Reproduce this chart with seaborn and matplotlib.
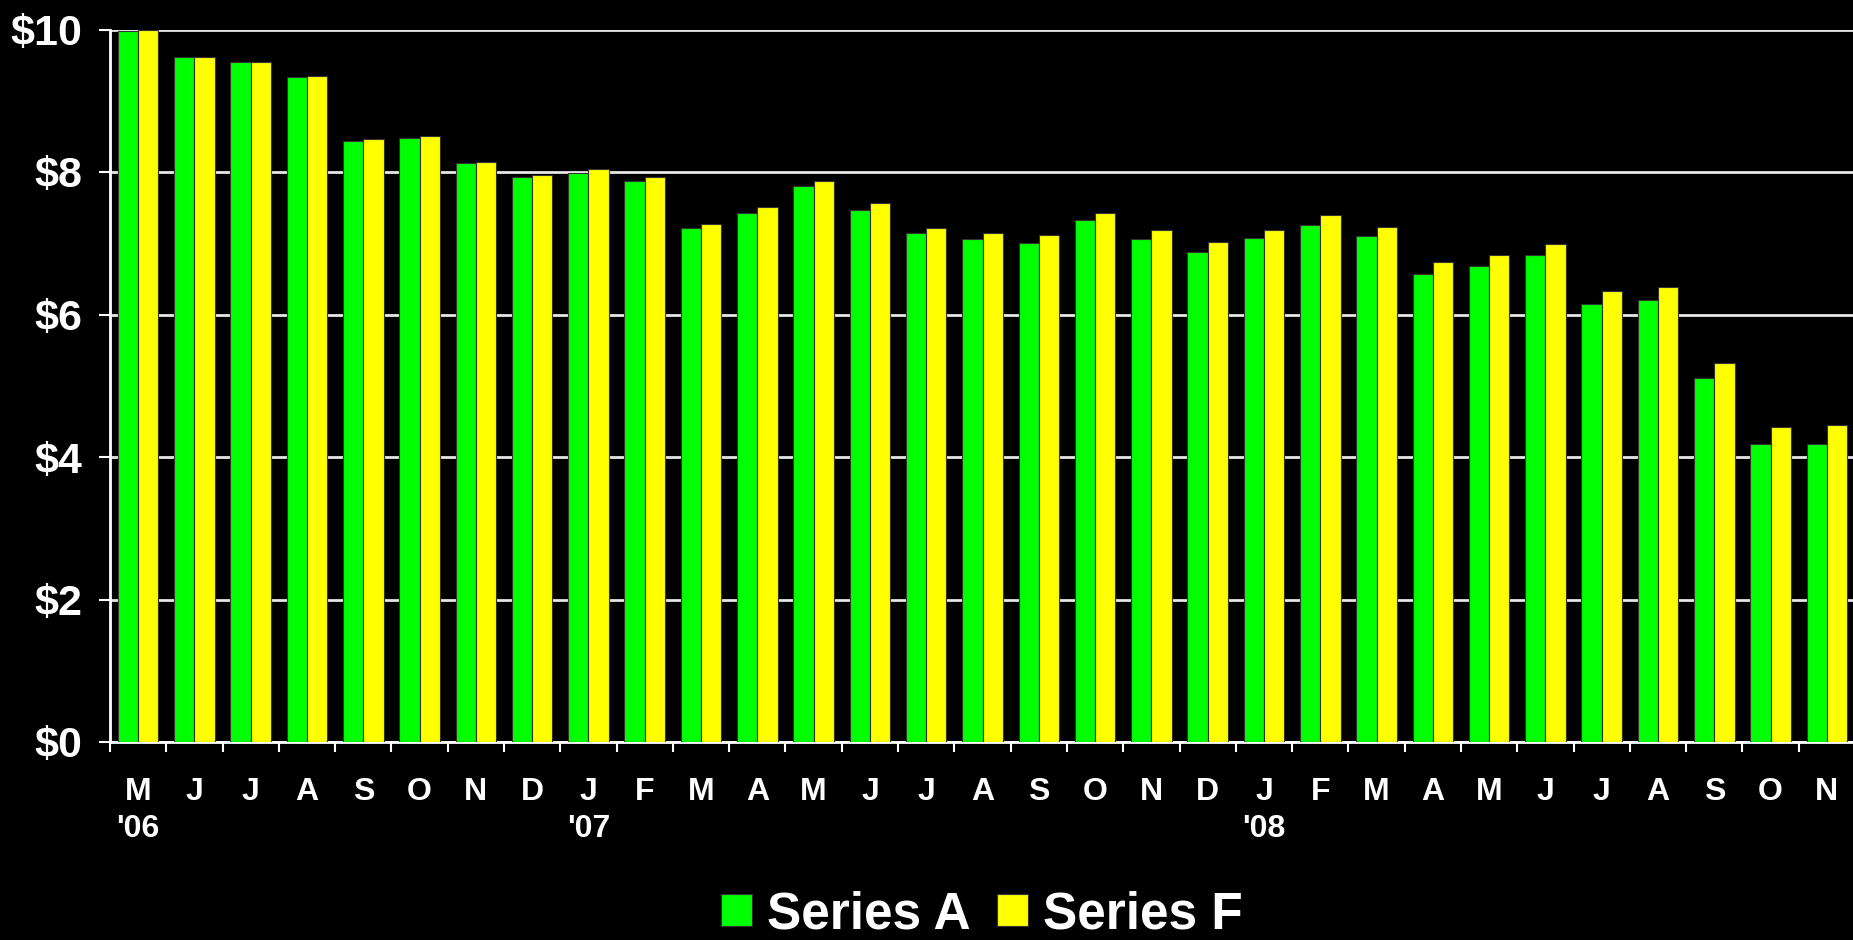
import numpy as np
import pandas as pd
import matplotlib.pyplot as plt
import seaborn as sns

# Datos (may 2006 - nov 2008)
meses = ['M', 'J', 'J', 'A', 'S', 'O', 'N', 'D',
         'J', 'F', 'M', 'A', 'M', 'J', 'J', 'A', 'S', 'O', 'N', 'D',
         'J', 'F', 'M', 'A', 'M', 'J', 'J', 'A', 'S', 'O', 'N']
anios = {0: "'06", 8: "'07", 20: "'08"}

serie_a = [9.98, 9.61, 9.54, 9.33, 8.43, 8.48, 8.12, 7.93,
           7.99, 7.88, 7.22, 7.43, 7.80, 7.46, 7.14, 7.06, 7.01, 7.33, 7.06, 6.88,
           7.07, 7.26, 7.10, 6.57, 6.68, 6.84, 6.15, 6.20, 5.11, 4.18, 4.18]
serie_f = [9.99, 9.61, 9.54, 9.35, 8.46, 8.51, 8.14, 7.96,
           8.04, 7.93, 7.27, 7.51, 7.88, 7.56, 7.22, 7.14, 7.12, 7.43, 7.19, 7.02,
           7.18, 7.39, 7.23, 6.73, 6.84, 6.99, 6.33, 6.38, 5.32, 4.42, 4.45]
series = ['Series A', 'Series F']
colores = ['#00FF00', '#FFFF00']
valores_y = [0, 2, 4, 6, 8, 10]

n = len(meses)
df = pd.DataFrame({
    'periodo': list(range(n)) * 2,
    'valor': serie_a + serie_f,
    'serie': [series[0]] * n + [series[1]] * n,
})

plt.rcParams['font.family'] = ['Liberation Sans', 'DejaVu Sans']
plt.rcParams['font.weight'] = 'bold'

fig = plt.figure(figsize=(18.53, 9.40), dpi=100, facecolor='black')
ax = fig.add_axes([110 / 1853, 1 - 742 / 940, 1745 / 1853, (742 - 29.5) / 940])
ax.set_facecolor('black')

sns.barplot(data=df, x='periodo', y='valor', hue='serie', palette=colores,
            width=0.72, saturation=1, edgecolor='#333333', linewidth=0.8,
            errorbar=None, ax=ax, zorder=3)

ax.set_ylim(0, 10)
ax.set_xlim(-0.5, n - 0.5)

# Rejilla horizontal blanca detras de las barras
ax.set_axisbelow(True)
ax.yaxis.grid(True, color='#e6e6e6', linewidth=2)
ax.xaxis.grid(False)

ax.set_yticks(valores_y)
ax.set_yticklabels([rf'\${v}' for v in valores_y], fontsize=31,
                   fontweight='bold', color='white')
ax.tick_params(axis='y', length=8, width=1.5, color='white', pad=12)

etiquetas_x = [m + ('\n' + anios[i] if i in anios else '\n') for i, m in enumerate(meses)]
ax.set_xticks(range(n))
ax.set_xticklabels(etiquetas_x, fontsize=23, fontweight='bold', color='white',
                   va='top', linespacing=1.3)
ax.tick_params(axis='x', which='major', length=0, pad=25)
ax.set_xticks(np.arange(-0.5, n, 1), minor=True)
ax.tick_params(axis='x', which='minor', length=7, width=1.5, color='white', direction='out')

for lado in ['top', 'right']:
    ax.spines[lado].set_visible(False)
for lado in ['left', 'bottom']:
    ax.spines[lado].set_color('white')
    ax.spines[lado].set_linewidth(2)

ax.set_xlabel('')
ax.set_ylabel('')

handles, labels = ax.get_legend_handles_labels()
ax.legend_.remove()
fig.legend(handles, labels, loc='center', bbox_to_anchor=(982 / 1853, 0.027),
           ncol=2, frameon=False, fontsize=37, labelcolor='white',
           handlelength=0.6, handleheight=0.6, handletextpad=0.3,
           columnspacing=0.5, borderpad=0)

fig.savefig('out.png', dpi=100, facecolor='black')
